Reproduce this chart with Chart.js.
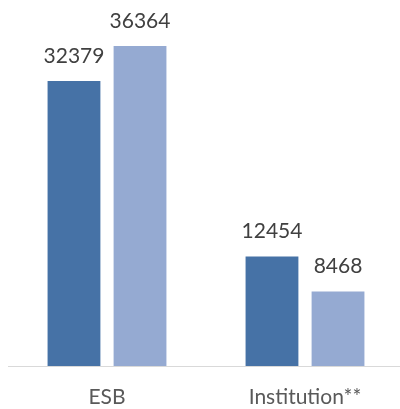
<!DOCTYPE html>
<html>
<head>
<meta charset="utf-8">
<script src="https://cdn.jsdelivr.net/npm/chart.js@4"></script>
<style>
  html, body { margin: 0; padding: 0; background: #fff; overflow: hidden; }
  canvas { display: block; }
</style>
</head>
<body>
<canvas id="chart" width="404" height="409"></canvas>
<script>
// Data
const categories = ["ESB", "Institution**"];
const seriesA = [32379, 12454];
const seriesB = [36364, 8468];

// Value labels above each bar
const valueLabels = {
  id: "valueLabels",
  afterDatasetsDraw(chart) {
    const ctx = chart.ctx;
    ctx.save();
    ctx.font = "21px Lato";
    ctx.fillStyle = "#404040";
    ctx.textAlign = "center";
    ctx.textBaseline = "alphabetic";
    chart.data.datasets.forEach((ds, i) => {
      chart.getDatasetMeta(i).data.forEach((bar, j) => {
        ctx.fillText(String(ds.data[j]), bar.x, bar.y - 18);
      });
    });
    ctx.restore();
  }
};

new Chart(document.getElementById("chart").getContext("2d"), {
  type: "bar",
  data: {
    labels: categories,
    datasets: [
      { data: seriesA, backgroundColor: "#4672A6", categoryPercentage: 0.667, barPercentage: 0.8 },
      { data: seriesB, backgroundColor: "#95AAD2", categoryPercentage: 0.667, barPercentage: 0.8 }
    ]
  },
  options: {
    responsive: false,
    animation: false,
    layout: { padding: { top: 14, left: 8, right: 0, bottom: 0 } },
    plugins: { legend: { display: false }, tooltip: { enabled: false } },
    scales: {
      y: { display: false, min: 0, max: 40000 },
      x: {
        afterFit(scale) { scale.height = 43; },
        grid: { display: false, drawTicks: false },
        border: { display: true, color: "#d9d9d9", width: 1 },
        ticks: { color: "#595959", font: { family: "Lato", size: 21 }, padding: 19 }
      }
    }
  },
  plugins: [valueLabels]
});
</script>
</body>
</html>
